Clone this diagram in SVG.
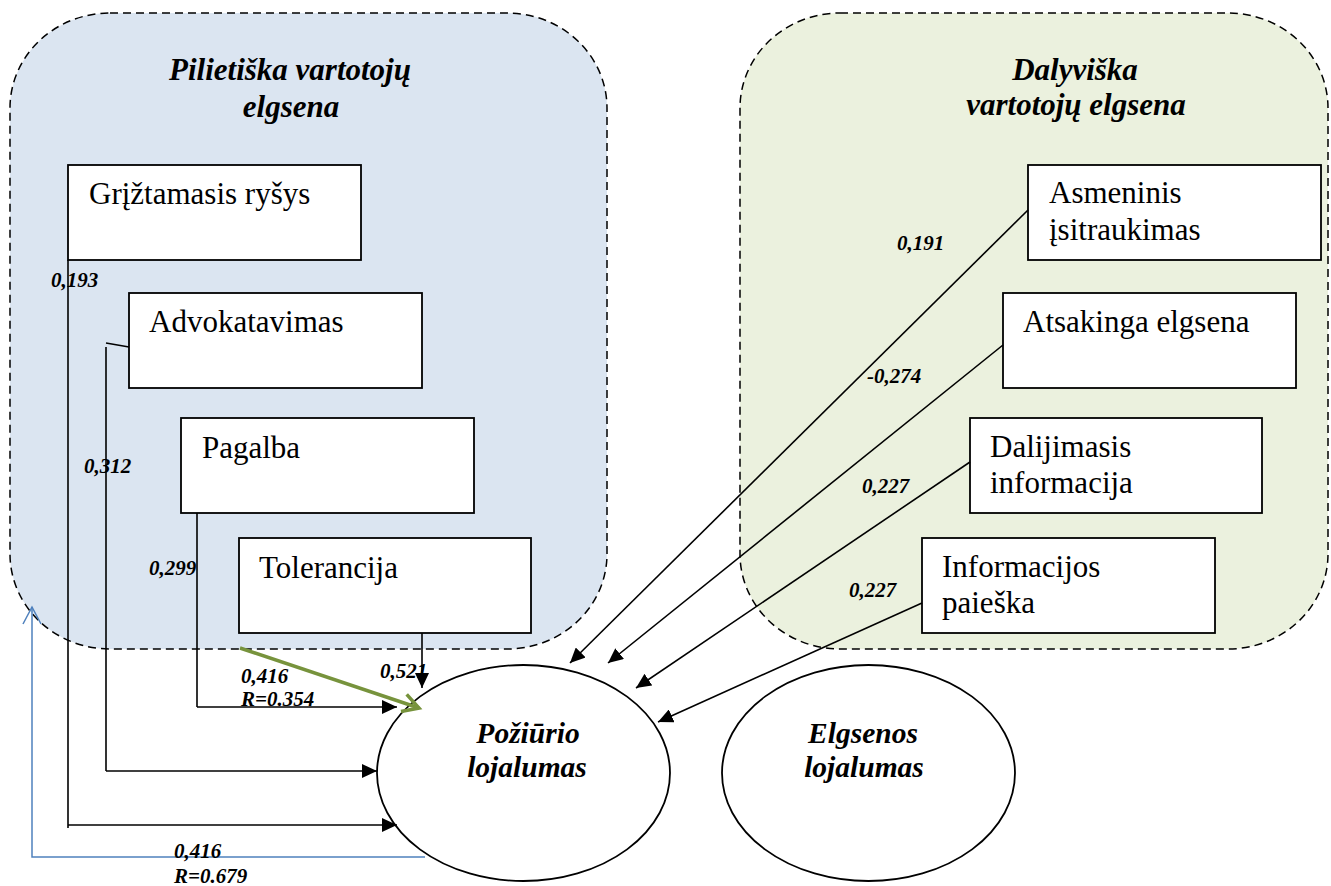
<svg xmlns="http://www.w3.org/2000/svg" width="1331" height="886" viewBox="0 0 1331 886">
  <style>
    .group-box { stroke: #000; stroke-width: 1.5; stroke-dasharray: 8 5; }
    .node rect { fill: #fff; stroke: #000; stroke-width: 1.8; }
    .node ellipse { fill: #fff; stroke: #000; stroke-width: 1.8; }
    text { font-family: "Liberation Serif", "DejaVu Serif", "Times New Roman", serif; fill: #000; }
    .box-text { font-size: 31px; }
    .title { font-size: 31px; font-weight: bold; font-style: italic; text-anchor: middle; }
    .ell-text { font-size: 29.5px; font-weight: bold; font-style: italic; text-anchor: middle; }
    .coef { font-size: 21px; font-weight: bold; font-style: italic; }
    .link { fill: none; stroke: #000; stroke-width: 1.6; }
    .arrow { marker-end: url(#arrow-black); }
  </style>
  <defs>
    <marker id="arrow-black" markerUnits="userSpaceOnUse" markerWidth="16" markerHeight="14" refX="15" refY="7" orient="auto">
      <path d="M0,0 L15,7 L0,14 Z" fill="#000"/>
    </marker>
    <marker id="arrow-green" markerUnits="userSpaceOnUse" markerWidth="22" markerHeight="22" refX="18" refY="11" orient="auto">
      <path d="M2,2 L18,11 L2,20" fill="none" stroke="#77933C" stroke-width="3.5"/>
    </marker>
  </defs>

  <rect width="1331" height="886" fill="#fff"/>

  <!-- Group containers -->
  <g id="group-pilietiska">
    <rect class="group-box" x="10" y="13" width="597" height="636" rx="100" ry="95" fill="#DBE5F1"/>
    <text class="title" x="290" y="80">Pilietiška vartotojų</text>
    <text class="title" x="291" y="117">elgsena</text>
  </g>
  <g id="group-dalyviska">
    <rect class="group-box" x="740" y="13" width="588" height="636" rx="100" ry="95" fill="#EBF1DE"/>
    <text class="title" x="1075" y="80">Dalyviška</text>
    <text class="title" x="1076" y="115">vartotojų elgsena</text>
  </g>

  <!-- Source nodes (left) -->
  <g id="node-griztamasis" class="node">
    <rect x="68" y="165" width="293" height="95"/>
    <text class="box-text" x="89" y="204">Grįžtamasis ryšys</text>
  </g>
  <g id="node-advokatavimas" class="node">
    <rect x="129" y="293" width="293" height="95"/>
    <text class="box-text" x="149" y="332">Advokatavimas</text>
  </g>
  <g id="node-pagalba" class="node">
    <rect x="181" y="418" width="293" height="95"/>
    <text class="box-text" x="202" y="458">Pagalba</text>
  </g>
  <g id="node-tolerancija" class="node">
    <rect x="239" y="538" width="292" height="95"/>
    <text class="box-text" x="259" y="578">Tolerancija</text>
  </g>

  <!-- Source nodes (right) -->
  <g id="node-asmeninis" class="node">
    <rect x="1028" y="165" width="293" height="95"/>
    <text class="box-text" x="1049" y="203">Asmeninis</text>
    <text class="box-text" x="1049" y="240">įsitraukimas</text>
  </g>
  <g id="node-atsakinga" class="node">
    <rect x="1003" y="293" width="293" height="95"/>
    <text class="box-text" x="1023" y="332">Atsakinga elgsena</text>
  </g>
  <g id="node-dalijimasis" class="node">
    <rect x="970" y="418" width="292" height="95"/>
    <text class="box-text" x="990" y="457">Dalijimasis</text>
    <text class="box-text" x="990" y="493">informacija</text>
  </g>
  <g id="node-informacijos" class="node">
    <rect x="922" y="538" width="293" height="95"/>
    <text class="box-text" x="942" y="577">Informacijos</text>
    <text class="box-text" x="942" y="613">paieška</text>
  </g>

  <!-- Target nodes -->
  <g id="node-poziurio" class="node">
    <ellipse cx="523.5" cy="773" rx="146.5" ry="108"/>
    <text class="ell-text" x="528" y="743">Požiūrio</text>
    <text class="ell-text" x="527" y="777">lojalumas</text>
  </g>
  <g id="node-elgsenos" class="node">
    <ellipse cx="868.5" cy="773" rx="146.5" ry="108"/>
    <text class="ell-text" x="863" y="743">Elgsenos</text>
    <text class="ell-text" x="864" y="777">lojalumas</text>
  </g>

  <!-- Connectors -->
  <g id="connectors">
    <!-- Grįžtamasis ryšys -->
    <path class="link" d="M68,260 L68,828"/>
    <path class="link arrow" d="M68,825 L397,825"/>
    <!-- Advokatavimas -->
    <path class="link" d="M106,343 L129,347"/>
    <path class="link" d="M106,347 L106,771"/>
    <path class="link arrow" d="M106,771 L377,771"/>
    <!-- Pagalba -->
    <path class="link" d="M197,513 L197,707"/>
    <path class="link arrow" d="M197,707 L397,707"/>
    <!-- Tolerancija -->
    <path class="link arrow" d="M422,633 L422,688"/>
    <!-- Combined civic effect -->
    <path d="M240,648 L419,708" fill="none" stroke="#77933C" stroke-width="3.5" marker-end="url(#arrow-green)"/>
    <!-- Overall effect, open arrowhead pointing up -->
    <path d="M425,857 L32,857 L32,607" fill="none" stroke="#4F81BD" stroke-width="1.5"/>
    <path d="M23,624 L32,607 L41,624" fill="none" stroke="#4F81BD" stroke-width="1.5"/>
    <!-- Participative behaviour -->
    <path class="link arrow" d="M1028,210 L570,663"/>
    <path class="link arrow" d="M1003,345 L608,663"/>
    <path class="link arrow" d="M970,462 L636,688"/>
    <path class="link arrow" d="M922,603 L658,722"/>
  </g>

  <!-- Coefficients -->
  <g id="coefficients">
    <text class="coef" x="51" y="287">0,193</text>
    <text class="coef" x="84" y="473">0,312</text>
    <text class="coef" x="149" y="575">0,299</text>
    <text class="coef" x="380" y="678">0,521</text>
    <text class="coef" x="241" y="683">0,416</text>
    <text class="coef" x="241" y="706">R=0.354</text>
    <text class="coef" x="174" y="858">0,416</text>
    <text class="coef" x="174" y="883">R=0.679</text>
    <text class="coef" x="897" y="250">0,191</text>
    <text class="coef" x="867" y="383">-0,274</text>
    <text class="coef" x="862" y="493">0,227</text>
    <text class="coef" x="849" y="597">0,227</text>
  </g>
</svg>
